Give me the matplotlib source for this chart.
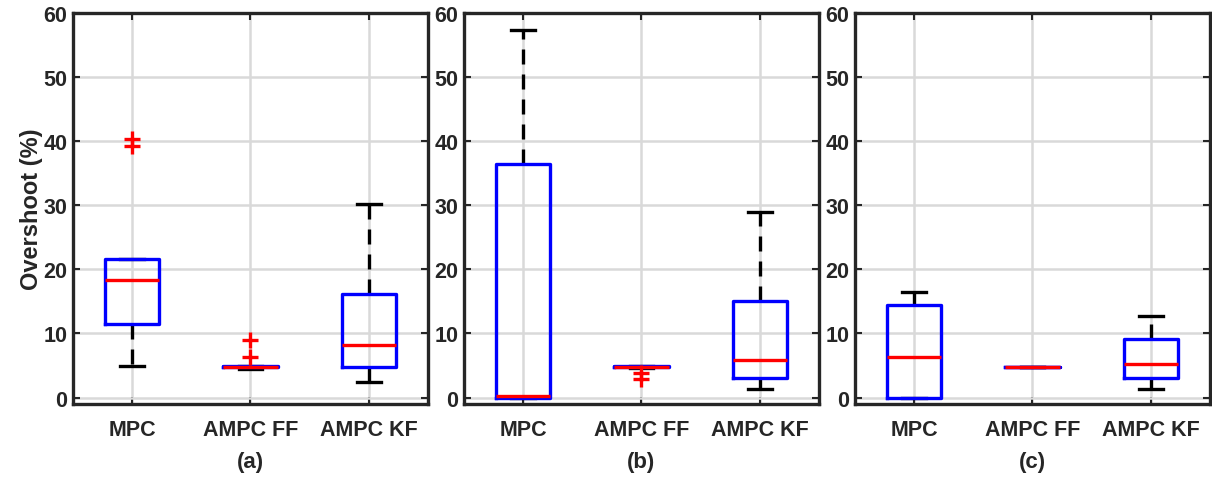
import numpy as np
import matplotlib.pyplot as plt

plt.rcParams['font.family'] = ['Liberation Sans', 'DejaVu Sans']
plt.rcParams['font.weight'] = 'bold'

# Categories and panel tags
labels = ["MPC", "AMPC FF", "AMPC KF"]
panels = ["(a)", "(b)", "(c)"]

# Box statistics, per panel, per category
# (lower whisker, q1, median, q3, upper whisker)
whislo = [[5.0, 4.5, 2.4], [0.0, 4.6, 1.3], [0.0, 4.8, 1.3]]
q1 = [[11.5, 4.7, 4.8], [0.0, 4.7, 3.0], [0.0, 4.8, 3.1]]
med = [[18.3, 4.8, 8.2], [0.2, 4.8, 5.8], [6.3, 4.8, 5.2]]
q3 = [[21.6, 4.9, 16.2], [36.5, 4.9, 15.1], [14.5, 4.8, 9.2]]
whishi = [[21.6, 4.9, 30.2], [57.3, 4.9, 28.9], [16.4, 4.8, 12.8]]
fliers = [[[39.2, 40.4], [6.3, 9.0], []],
          [[], [3.8, 2.9], []],
          [[], [], []]]

fig = plt.figure(figsize=(12.12, 4.81), dpi=100)
lefts = [0.0602, 0.3828, 0.7054]

for p in range(3):
    ax = fig.add_axes([lefts[p], 0.158, 0.2929, 0.813])
    stats = []
    for i in range(3):
        stats.append(dict(whislo=whislo[p][i], q1=q1[p][i], med=med[p][i],
                          q3=q3[p][i], whishi=whishi[p][i],
                          fliers=np.array(fliers[p][i])))
    ax.bxp(stats, positions=[1, 2, 3], widths=0.46, capwidths=0.2,
           showfliers=True,
           boxprops=dict(color='#0000ff', linewidth=2.4, zorder=4),
           medianprops=dict(color='#ff0000', linewidth=2.4, zorder=5),
           whiskerprops=dict(color='black', linewidth=2.4, linestyle=(0, (4.5, 3.0)), zorder=3),
           capprops=dict(color='black', linewidth=2.4, zorder=3),
           flierprops=dict(marker='+', markeredgecolor='#ff0000', markersize=11,
                           markeredgewidth=2.4, linestyle='none', zorder=5))
    ax.set_xlim(0.5, 3.5)
    ax.set_ylim(-1, 60)
    ax.set_yticks([0, 10, 20, 30, 40, 50, 60])
    ax.set_xticks([1, 2, 3])
    ax.set_xticklabels(labels)
    ax.grid(True, color='#d9d9d9', linewidth=1.8)
    ax.set_axisbelow(True)
    ax.tick_params(axis='both', direction='in', length=5, width=1.5,
                   colors='#262626', labelsize=15.5)
    ax.tick_params(axis='y', right=True, pad=4)
    ax.tick_params(axis='x', top=True, pad=11)
    for s in ax.spines.values():
        s.set_linewidth(2.4)
        s.set_color('#262626')
    for t in ax.get_xticklabels() + ax.get_yticklabels():
        t.set_fontweight('bold')
    ax.set_xlabel(panels[p], fontsize=16, fontweight='bold', color='#262626', labelpad=8)
    if p == 0:
        ax.set_ylabel("Overshoot (%)", fontsize=17, fontweight='bold', color='#262626', labelpad=0)

plt.savefig("out.png", dpi=100)
